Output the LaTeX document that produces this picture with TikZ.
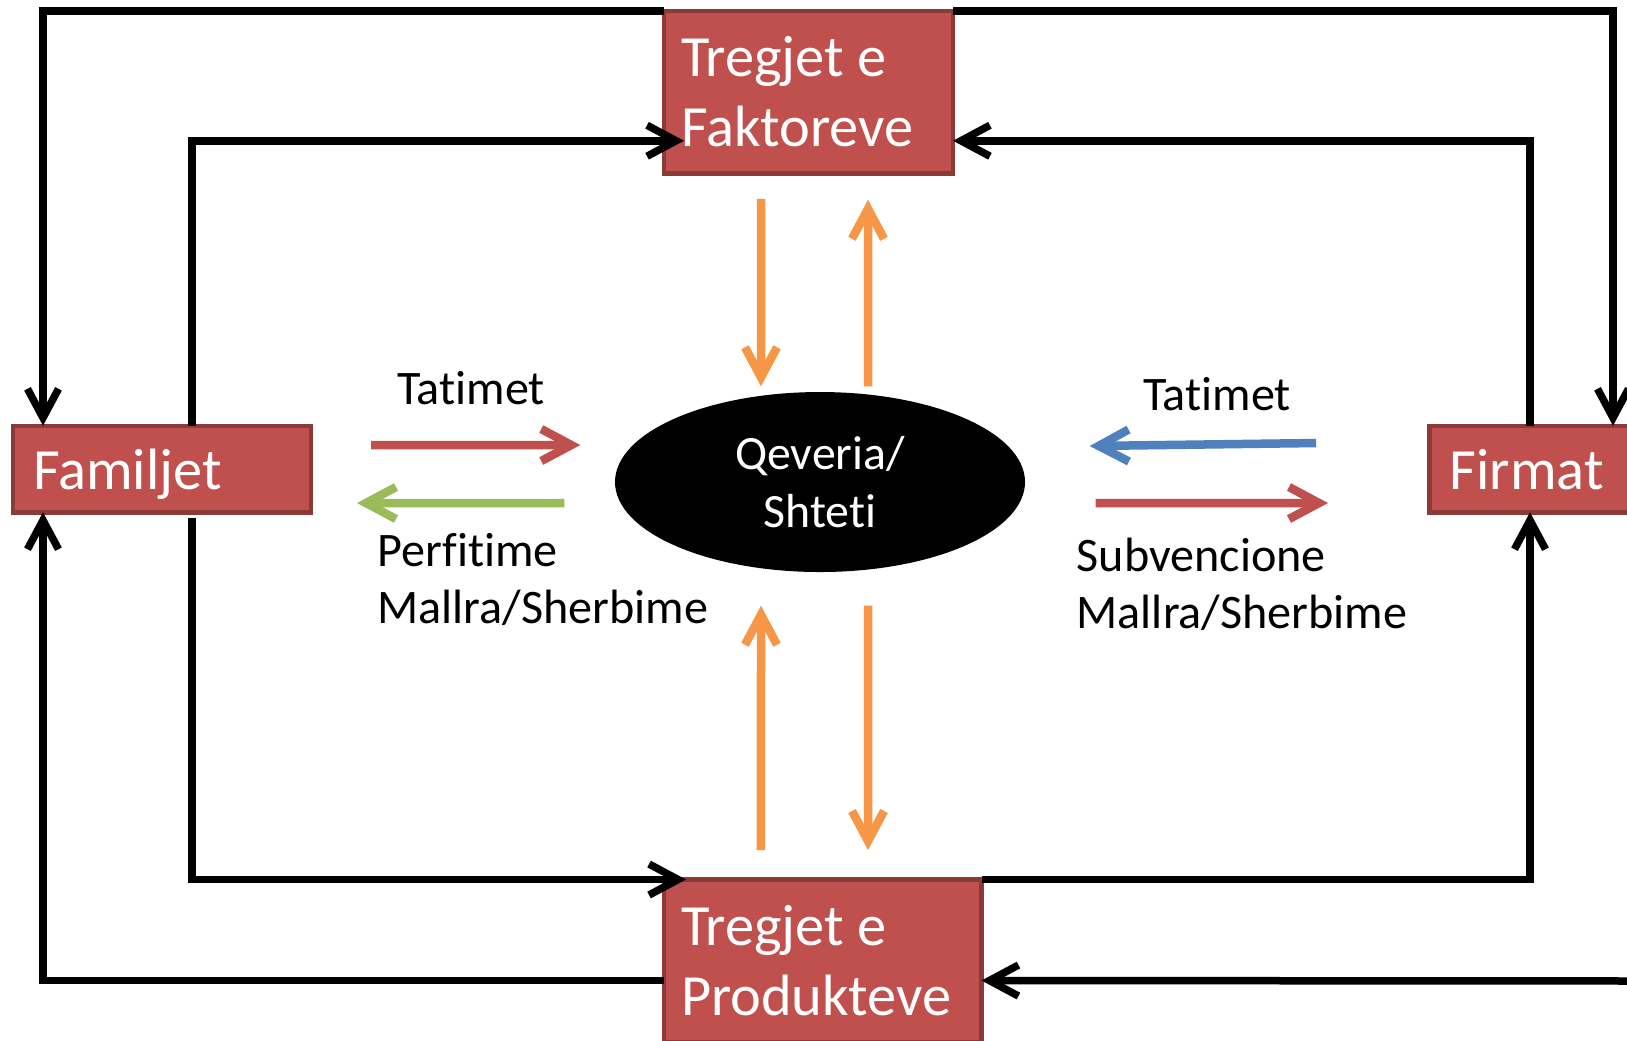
\documentclass[tikz,border=0pt]{standalone}
\usepackage{fontspec}
\setmainfont{Carlito}[Ligatures=NoCommon]
\usepackage{xcolor}
\usepackage{tikz}
\usetikzlibrary{shapes.geometric, arrows.meta, positioning}

\definecolor{boxred}{RGB}{192,80,77}
\definecolor{boxedge}{RGB}{140,58,56}
\definecolor{govorange}{RGB}{247,150,70}
\definecolor{taxblue}{RGB}{79,129,189}
\definecolor{benefitgreen}{RGB}{155,187,89}

\begin{document}
\begin{tikzpicture}[
        x=0.1mm, y=-0.1mm,
        >={Straight Barb[length=2.9mm,width=3.1mm]},
        % Style des boîtes de marché
        market/.style={
            rectangle,
            draw=boxedge,
            line width=0.45mm,
            fill=boxred,
            text=white,
            font=\fontsize{16.6}{19.9}\selectfont,
            align=flush left,
            inner xsep=1.7mm,
            inner ysep=0pt,
            outer sep=0pt,
            minimum height=16.25mm
        },
        % Style des agents (familles, firmes)
        agent/.style={
            market,
            inner xsep=2mm,
            minimum height=8.65mm,
            minimum width=29.8mm,
            text width=25.8mm,
            text height=5.2mm,
            text depth=1.2mm
        },
        % Style de l'état
        state/.style={
            ellipse,
            fill=black,
            text=white,
            minimum width=41mm,
            minimum height=18mm,
            inner sep=0pt,
            align=center,
            font=\fontsize{13.6}{16.5}\selectfont
        },
        flowtext/.style={
            font=\fontsize{13.7}{16.2}\selectfont,
            align=flush left,
            inner sep=0pt
        },
        % Style des flèches
        flow/.style={
            ->,
            line width=0.75mm,
            color=black
        },
        govline/.style={
            -{Straight Barb[length=3mm,width=3.2mm]},
            line width=0.85mm
        }
    ]

    \useasboundingbox[fill=white] (0,0) rectangle (1627,1040);

    % --- MARCHÉS ---
    \node [market, minimum width=28.9mm, text width=25.5mm] (fakt) at (808.5,92) {Tregjet e\\Faktoreve};
    \node [market, minimum width=31.75mm, text width=28.35mm] (prod) at (822.75,960.75) {Tregjet e\\Produkteve};

    % --- AGENTS ---
    \node [agent] (fam) at (162,469) {Familjet};
    \node [agent] (firm) at (1578.5,469) {Firmat};

    % --- ÉTAT ---
    \node [state] (gov) at (820,482) {Qeveria/\\Shteti};

    % --- TEXTES ---
    \node [flowtext, anchor=base] (taxL) at (471,404) {Tatimet};
    \node [flowtext, anchor=base west] (benL) at (377,623) {Perfitime\\Mallra/Sherbime};
    \node [flowtext, anchor=base] (taxR) at (1217,410) {Tatimet};
    \node [flowtext, anchor=base west] (subR) at (1076,628) {Subvencione\\Mallra/Sherbime};

    \coordinate (edgeR) at (1660,981);

    % --- CIRCUIT EXTÉRIEUR ---
    \draw [flow] (fakt.north west) -| ([xshift=3mm]fam.north west);
    \draw [flow] (fakt.north east) -| ([xshift=18.35mm]firm.north west);
    \draw [flow] ([yshift=-10.1mm]prod.north west) -| ([xshift=3mm]fam.south west);
    \draw [flow] (edgeR) -- ([yshift=-10.1mm]prod.north east);

    % --- CIRCUIT INTÉRIEUR ---
    \draw [flow] ([xshift=17.9mm]fam.north west) |- ([xshift=2mm,yshift=3.25mm]fakt.south west);
    \draw [flow] ([xshift=10.05mm]firm.north west) |- ([yshift=3.25mm]fakt.south east);
    \draw [flow] ([xshift=17.9mm,yshift=-0.6mm]fam.south west) |- ([xshift=2.2mm]prod.north west);
    \draw [flow] (prod.north east) -| ([xshift=10.05mm]firm.south west);

    % --- FLUX DE L'ÉTAT ---
    \draw [govline, govorange] ([xshift=-4.75mm,yshift=-2.55mm]fakt.south) -- ([xshift=-5.9mm,yshift=0.5mm]gov.north);
    \draw [govline, govorange] ([xshift=4.8mm,yshift=0.5mm]gov.north) -- ([xshift=5.95mm,yshift=-2.65mm]fakt.south);
    \draw [govline, govorange] ([xshift=-6.18mm,yshift=2.95mm]prod.north) -- ([xshift=-5.9mm,yshift=-3.3mm]gov.south);
    \draw [govline, govorange] ([xshift=4.8mm,yshift=-3.3mm]gov.south) -- ([xshift=4.53mm,yshift=2.95mm]prod.north);

    \draw [govline, boxred] ([xshift=6mm,yshift=2.4mm]fam.east) -- ([xshift=-3.4mm,yshift=3.7mm]gov.west);
    \draw [govline, benefitgreen] ([xshift=-5mm,yshift=-2.1mm]gov.west) -- ([xshift=4.6mm,yshift=-3.4mm]fam.east);
    \draw [govline, taxblue] ([xshift=-11.35mm,yshift=2.6mm]firm.west) -- ([xshift=6.4mm,yshift=3.6mm]gov.east);
    \draw [govline, boxred] ([xshift=7mm,yshift=-2.1mm]gov.east) -- ([xshift=-10.15mm,yshift=-3.4mm]firm.west);

\end{tikzpicture}
\end{document}
